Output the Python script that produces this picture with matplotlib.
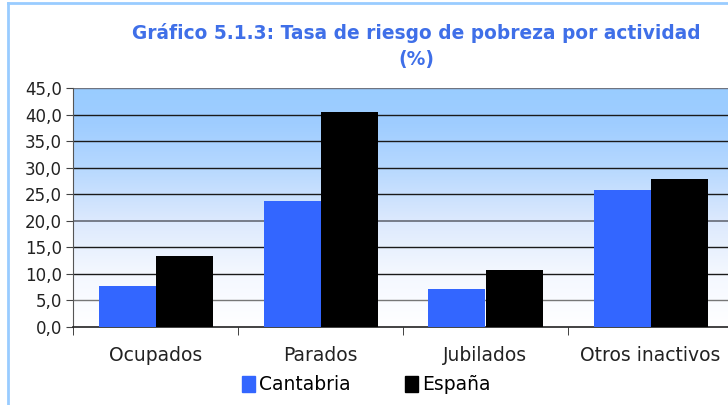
import matplotlib
matplotlib.use("Agg")
import matplotlib.pyplot as plt
import numpy as np
from matplotlib.colors import LinearSegmentedColormap
from matplotlib.patches import Patch
from matplotlib.lines import Line2D

categories = ["Ocupados", "Parados", "Jubilados", "Otros inactivos"]
cantabria = [7.7, 23.7, 7.2, 25.8]
espana = [13.4, 40.5, 10.7, 27.9]
series_names = ["Cantabria", "España"]
yticks = [0, 5, 10, 15, 20, 25, 30, 35, 40, 45]
ytick_labels = ["0,0", "5,0", "10,0", "15,0", "20,0", "25,0", "30,0", "35,0", "40,0", "45,0"]
title = "Gráfico 5.1.3: Tasa de riesgo de pobreza por actividad\n(%)"

plt.rcParams['font.family'] = ['DejaVu Sans']

fig = plt.figure(figsize=(7.28, 4.05), dpi=100)
fig.patch.set_facecolor("white")

# border lines (light blue frame at left and top)
fig.add_artist(Line2D([8/728, 8/728], [0, 1 - 3/405], transform=fig.transFigure, color="#99CCFF", lw=2))
fig.add_artist(Line2D([8/728, 1], [1 - 3/405, 1 - 3/405], transform=fig.transFigure, color="#99CCFF", lw=2))

ax = fig.add_axes([73/728, 1 - 327/405, 660/728, (327 - 88)/405])

# gradient background
cmap = LinearSegmentedColormap.from_list(
    "bg",
    [(0.0, "#ffffff"), (10/45, "#f4f8ff"), (20/45, "#dce9fd"), (30/45, "#b6d8ff"), (38/45, "#9fcdff"), (1.0, "#99ccff")])
grad = np.linspace(0, 1, 256).reshape(-1, 1)
ax.imshow(grad, aspect="auto", cmap=cmap, origin="lower", extent=[-0.5, 3.5, 0, 45], zorder=0)

x = np.arange(len(categories))
w = 57/165
ax.bar(x - w/2, cantabria, width=w, color="#3366FF", zorder=3, label=series_names[0])
ax.bar(x + w/2, espana, width=w, color="#000000", zorder=3, label=series_names[1])

for yv in yticks[1:]:
    col = "#6f7480" if yv in (20, 45) else "#1a1a1a"
    if yv == 5:
        col = "#777777"
    ax.axhline(yv, color=col, lw=1.3 if yv == 20 else 1.0, zorder=2)

ax.set_xlim(-0.5, 3.5)
ax.set_ylim(0, 45)
ax.set_yticks(yticks)
ax.set_yticklabels(ytick_labels, fontsize=12, color="#222222")
ax.set_xticks(x)
ax.set_xticklabels(categories, fontsize=13.5, color="#222222")
ax.tick_params(axis="x", length=0, pad=14)
ax.set_xticks([-0.5, 0.5, 1.5, 2.5], minor=True)
ax.tick_params(axis="x", which="minor", length=6, direction="out", color="#222222")
ax.tick_params(axis="y", length=5, direction="out", color="#444444", pad=3)

for s in ["top", "right"]:
    ax.spines[s].set_visible(False)
ax.spines["left"].set_color("#555555")
ax.spines["bottom"].set_color("#222222")
ax.spines["bottom"].set_linewidth(1.2)

fig.text(416/728, 1 - 46/405, title, ha="center", va="center", fontsize=13.4, fontweight="bold",
         color="#3f6fe8", linespacing=1.5)

handles = [Patch(color="#3366FF"), Patch(color="#000000")]
fig.legend(handles, series_names, loc="center", bbox_to_anchor=(366/728, 1 - 385/405), ncol=2,
           frameon=False, fontsize=13.5, handlelength=0.7, handleheight=0.95, handletextpad=0.2,
           columnspacing=2.9)

fig.savefig("out.png", dpi=100)
